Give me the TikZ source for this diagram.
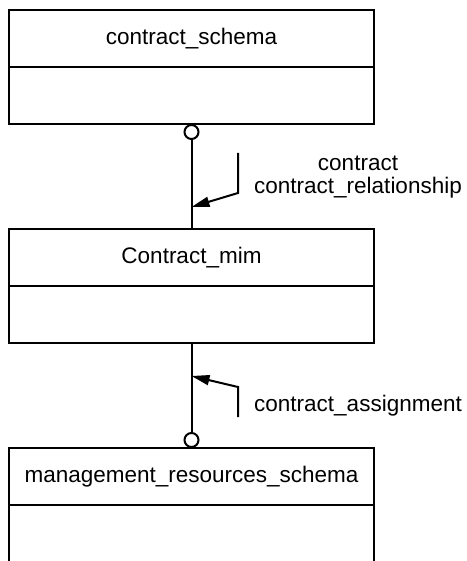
\documentclass[tikz,border=0pt]{standalone}
\usepackage{fontspec}
\setmainfont{Liberation Sans}
\usetikzlibrary{arrows.meta,positioning}

\begin{document}
\begin{tikzpicture}[x=1pt, y=-1pt,
    head/.style={rectangle, draw, line width=2pt, outer sep=0pt, inner sep=0pt, minimum width=365pt, minimum height=57pt, font=\fontsize{22.5}{23}\selectfont},
    body/.style={rectangle, draw, line width=2pt, outer sep=0pt, inner sep=0pt, minimum width=365pt, minimum height=57pt},
    link/.style={line width=2pt, {Circle[open, length=16pt, width=16pt]}-},
    role/.style={line width=2pt, -{Triangle[length=18pt, width=10pt]}},
    lbl/.style={inner sep=0pt, align=center, font=\fontsize{22.5}{23}\selectfont},
]
    \useasboundingbox (0,0) rectangle (466,561);
    \clip (0,0) rectangle (466,561);

    % Schemas
    \node[head] (schema) at (191.5, 38.5) {contract\_schema};
    \node[body, below=0pt of schema] (schemabody) {};
    \node[head] (mim) at (191.5, 257.5) {Contract\_mim};
    \node[body, below=0pt of mim] (mimbody) {};
    \node[head] (mgmt) at (191.5, 476.5) {management\_resources\_schema};
    \node[body, below=0pt of mgmt, minimum height=120pt] (mgmtbody) {};

    % Links
    \draw[link] (schemabody) -- (mim);
    \draw[link] (mgmt) -- (mimbody);

    % Roles
    \coordinate (relTop) at (238, 153);
    \coordinate (relBend) at (238, 193);
    \coordinate (relTip) at (191.5, 207);
    \draw[role] (relTop) -- (relBend) -- (relTip);
    \node[lbl] (relName) at (358, 177) {contract\\contract\_relationship};

    \coordinate (asgBottom) at (238, 417);
    \coordinate (asgBend) at (238, 387);
    \coordinate (asgTip) at (191.5, 376);
    \draw[role] (asgBottom) -- (asgBend) -- (asgTip);
    \node[lbl, anchor=base west] (asgName) at (254, 411) {contract\_assignment};
\end{tikzpicture}
\end{document}
